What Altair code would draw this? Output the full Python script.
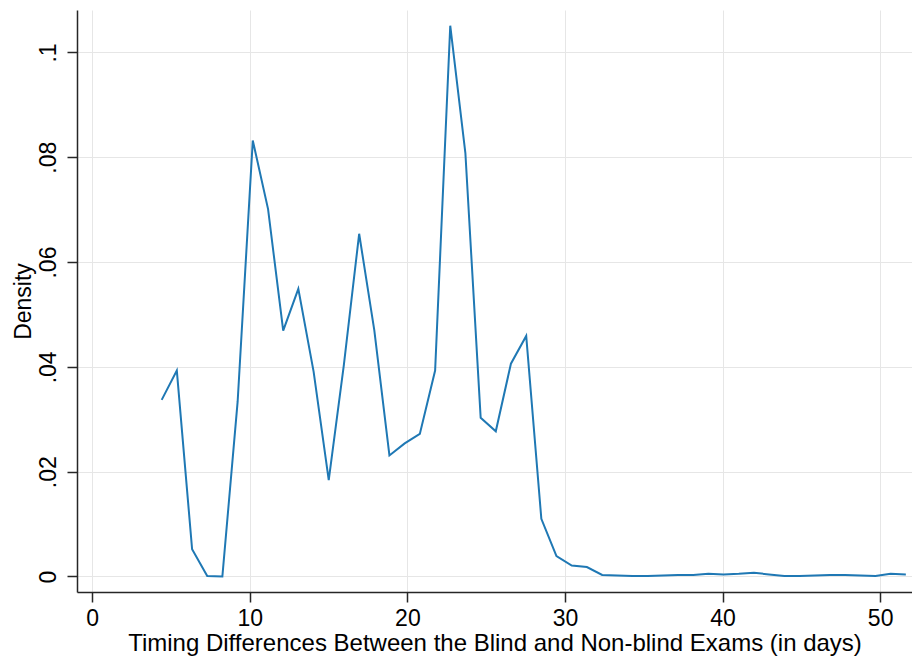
import altair as alt
import pandas as pd

# Kernel density estimate evaluated on a grid of timing differences (days)
days = [
    4.41, 5.37, 6.34, 7.30, 8.26, 9.23, 10.19, 11.16, 12.12, 13.08,
    14.05, 15.01, 15.97, 16.94, 17.90, 18.86, 19.83, 20.79, 21.76, 22.72,
    23.68, 24.65, 25.61, 26.57, 27.54, 28.50, 29.46, 30.43, 31.39, 32.36,
    33.32, 34.28, 35.25, 36.21, 37.17, 38.14, 39.10, 40.06, 41.03, 41.99,
    42.95, 43.92, 44.88, 45.85, 46.81, 47.77, 48.74, 49.70, 50.66, 51.63,
]
density = [
    0.0337, 0.0393, 0.0052, 0.0001, 0.0000, 0.0334, 0.0832, 0.0701, 0.0469, 0.0549,
    0.0391, 0.0184, 0.0404, 0.0654, 0.0470, 0.0231, 0.0254, 0.0272, 0.0393, 0.1051,
    0.0808, 0.0303, 0.0277, 0.0406, 0.0459, 0.0110, 0.0039, 0.0021, 0.0018, 0.0003,
    0.0002, 0.0001, 0.0001, 0.0002, 0.0003, 0.0003, 0.0005, 0.0004, 0.0005, 0.0007,
    0.0004, 0.0001, 0.0001, 0.0002, 0.0003, 0.0003, 0.0002, 0.0001, 0.0005, 0.0004,
]
x_ticks = [0, 10, 20, 30, 40, 50]
y_ticks = [0, 0.02, 0.04, 0.06, 0.08, 0.1]

df = pd.DataFrame({"days": days, "density": density})

FONT = "Liberation Sans"

chart = (
    alt.Chart(df)
    .mark_line(color="#1f78b4", strokeWidth=2)
    .encode(
        x=alt.X(
            "days:Q",
            scale=alt.Scale(domain=[-0.964, 52.02], nice=False, zero=False),
            axis=alt.Axis(
                title="Timing Differences Between the Blind and Non-blind Exams (in days)",
                values=x_ticks,
                format="d",
                labelFontSize=23,
                titleFontSize=24,
                tickSize=10,
                labelPadding=5,
                titlePadding=1,
            ),
        ),
        y=alt.Y(
            "density:Q",
            scale=alt.Scale(domain=[-0.00296, 0.1081], nice=False, zero=False),
            axis=alt.Axis(
                title="Density",
                values=y_ticks,
                labelExpr="datum.value == 0 ? '0' : slice(format(datum.value, '.2~f'), 1)",
                labelAngle=270,
                labelAlign="center",
                labelBaseline="bottom",
                labelFontSize=23,
                titleFontSize=23,
                tickSize=10,
                labelPadding=7,
                titlePadding=2,
            ),
        ),
    )
    .properties(
        width=835,
        height=582,
        autosize=alt.AutoSizeParams(type="none"),
        padding={"left": 77, "top": 10, "right": 0, "bottom": 65},
        background="white",
    )
    .configure_view(stroke=None)
    .configure_axis(
        labelFont=FONT,
        titleFont=FONT,
        labelColor="black",
        titleColor="black",
        titleFontWeight="normal",
        domainColor="#262626",
        domainWidth=1.5,
        tickColor="#262626",
        tickWidth=1.5,
        gridColor="#e6e6e6",
        gridWidth=1,
        grid=True,
    )
)

chart.save("out.html", embed_options={"renderer": "svg", "actions": False})
